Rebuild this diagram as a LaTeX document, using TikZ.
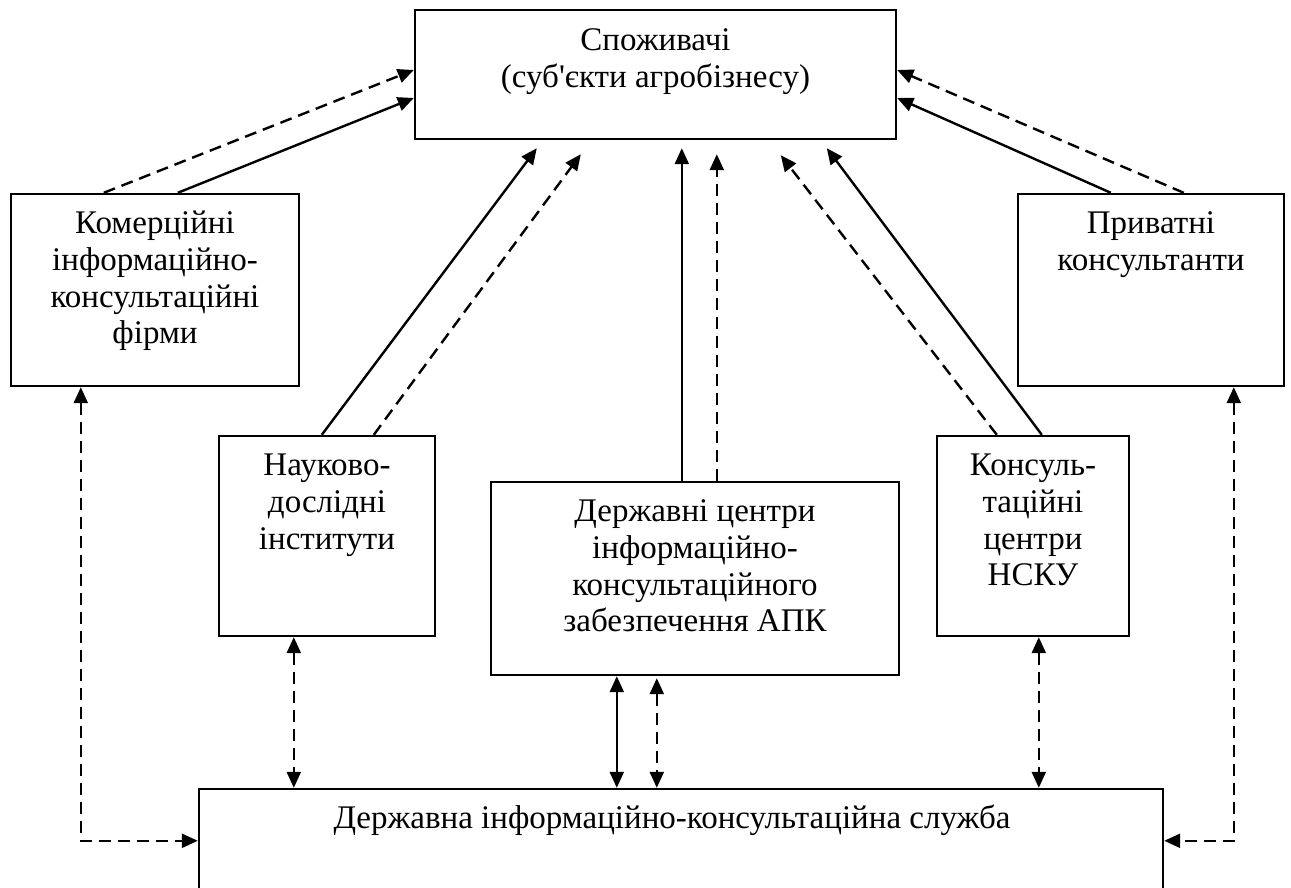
\documentclass[tikz,border=0pt]{standalone}
\usepackage{fontspec}
\setmainfont{Liberation Serif}
\usetikzlibrary{arrows.meta}
% centred multi-line text whose baseline is the first line
\newcommand\stack[1]{\begin{tabular}[t]{@{}c@{}}#1\end{tabular}}
\begin{document}
\begin{tikzpicture}[x=1pt,y=-1pt,
  box/.style={draw, line width=2.4pt, inner sep=0pt},
  lbl/.style={anchor=base, inner sep=0pt, font=\fontsize{33pt}{36.7pt}\selectfont},
  Head/.tip={Triangle[length=16pt,width=14pt]},
  flow/.style={line width=2.4pt, -Head},
  flowdash/.style={flow, dash pattern=on 12pt off 7pt},
  link/.style={line width=2.4pt, Head-Head},
  linkdash/.style={link, dash pattern=on 12pt off 7pt}]
\clip (0,0) rectangle (1291,888);

% boxes
\node[box, minimum width=481pt, minimum height=129pt] (cons) at (655.5,74.5) {};
\node[box, minimum width=288pt, minimum height=192pt] (firms) at (155,290) {};
\node[box, minimum width=266pt, minimum height=192pt] (priv) at (1151,290) {};
\node[box, minimum width=216pt, minimum height=200pt] (inst) at (327,536) {};
\node[box, minimum width=408pt, minimum height=193pt] (state) at (695,578.5) {};
\node[box, minimum width=192pt, minimum height=200pt] (nsku) at (1033,536) {};
\node[box, minimum width=964pt, minimum height=116pt] (serv) at (681,847) {};

% box texts
\node[lbl] (consT) at ([yshift=-42pt]cons.north) {\stack{Споживачі\\(суб\textquotesingle єкти агробізнесу)}};
\node[lbl] (firmsT) at ([yshift=-41pt]firms.north) {\stack{Комерційні\\інформаційно-\\консультаційні\\фірми}};
\node[lbl] (privT) at ([yshift=-41pt]priv.north) {\stack{Приватні\\консультанти}};
\node[lbl] (instT) at ([yshift=-41pt]inst.north) {\stack{Науково-\\дослідні\\інститути}};
\node[lbl] (stateT) at ([yshift=-41pt]state.north) {\stack{Державні центри\\інформаційно-\\консультаційного\\забезпечення АПК}};
\node[lbl] (nskuT) at ([yshift=-41pt]nsku.north) {\stack{Консуль-\\таційні\\центри\\НСКУ}};
\node[lbl] (servT) at ([xshift=-9pt,yshift=-41pt]serv.north) {Державна інформаційно-консультаційна служба};

% flows towards the consumers
\draw[flowdash] ([xshift=94pt]firms.north west) -- ([yshift=4.5pt]cons.west);
\draw[flow] ([xshift=168pt]firms.north west) -- ([yshift=-23.5pt]cons.west);
\draw[flowdash] ([xshift=167pt]priv.north west) -- ([yshift=4.5pt]cons.east);
\draw[flow] ([xshift=94pt]priv.north west) -- ([yshift=-23.5pt]cons.east);
\draw[flow] ([xshift=104pt]inst.north west) -- ([xshift=123pt,yshift=-8pt]cons.south west);
\draw[flowdash] ([xshift=156pt]inst.north west) -- ([xshift=167pt,yshift=-14pt]cons.south west);
\draw[flow] ([xshift=192pt]state.north west) -- ([xshift=268pt,yshift=-8pt]cons.south west);
\draw[flowdash] ([xshift=227pt]state.north west) -- ([xshift=303pt,yshift=-14pt]cons.south west);
\draw[flowdash] ([xshift=61pt]nsku.north west) -- ([xshift=367pt,yshift=-15pt]cons.south west);
\draw[flow] ([xshift=106pt]nsku.north west) -- ([xshift=413pt,yshift=-8pt]cons.south west);

% links with the state service
\draw[linkdash] ([xshift=71pt]firms.south west) |- ([yshift=-53pt]serv.north west);
\draw[linkdash] ([xshift=217pt]priv.south west) |- ([yshift=-53pt]serv.north east);
\draw[linkdash] ([xshift=76pt]inst.south west) -- ([xshift=76pt]inst.south west |- serv.north);
\draw[link] ([xshift=127pt]state.south west) -- ([xshift=127pt]state.south west |- serv.north);
\draw[linkdash] ([xshift=167pt,yshift=-2pt]state.south west) -- ([xshift=167pt]state.south west |- serv.north);
\draw[linkdash] ([xshift=103pt]nsku.south west) -- ([xshift=103pt]nsku.south west |- serv.north);
\end{tikzpicture}
\end{document}
